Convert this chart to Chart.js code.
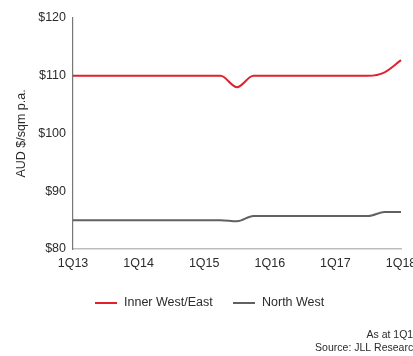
<!DOCTYPE html>
<html>
<head>
<meta charset="utf-8">
<script src="https://cdn.jsdelivr.net/npm/chart.js@4/dist/chart.umd.min.js"></script>
<style>
  html, body { margin: 0; padding: 0; overflow: hidden; background: #fff; }
  #wrap { position: relative; width: 440px; height: 356px; }
</style>
</head>
<body>
<div id="wrap"><canvas id="c" width="440" height="356"></canvas></div>
<script>
// Quarterly periods, 1Q13 to 1Q18
const quarters = [
  '1Q13','2Q13','3Q13','4Q13',
  '1Q14','2Q14','3Q14','4Q14',
  '1Q15','2Q15','3Q15','4Q15',
  '1Q16','2Q16','3Q16','4Q16',
  '1Q17','2Q17','3Q17','4Q17',
  '1Q18'
];

// Rents, AUD $/sqm p.a.
const innerWestEast = [
  110, 110, 110, 110,
  110, 110, 110, 110,
  110, 110, 108, 110,
  110, 110, 110, 110,
  110, 110, 110, 110.6,
  112.7
];
const northWest = [
  85, 85, 85, 85,
  85, 85, 85, 85,
  85, 85, 84.8, 85.7,
  85.7, 85.7, 85.7, 85.7,
  85.7, 85.7, 85.7, 86.4,
  86.4
];

const seriesNames = ['Inner West/East', 'North West'];
const seriesColors = ['#e0202e', '#616161'];
const yTicks = [80, 90, 100, 110, 120];
const footnotes = ['As at 1Q18', 'Source: JLL Research'];

const FONT = 'Liberation Sans, Arial, sans-serif';

// Legend row and source notes beneath the axes
const notesPlugin = {
  id: 'notes',
  afterDraw(chart) {
    const ctx = chart.ctx;
    ctx.save();
    ctx.font = '12.5px ' + FONT;
    ctx.textBaseline = 'middle';
    ctx.fillStyle = '#2b2b2b';
    const legendY = 303;
    const items = [{ x: 95 }, { x: 233 }];
    chart.data.datasets.forEach((ds, i) => {
      const x = items[i].x;
      ctx.strokeStyle = ds.borderColor;
      ctx.lineWidth = 2;
      ctx.beginPath();
      ctx.moveTo(x, legendY);
      ctx.lineTo(x + 22, legendY);
      ctx.stroke();
      ctx.textAlign = 'left';
      ctx.fillText(ds.label, x + 29, legendY);
    });
    ctx.font = '10.5px ' + FONT;
    ctx.textAlign = 'right';
    ctx.fillText(footnotes[0], 419, 335);
    ctx.fillText(footnotes[1], 419, 348);
    ctx.restore();
  }
};

new Chart(document.getElementById('c'), {
  type: 'line',
  data: {
    labels: quarters,
    datasets: [
      {
        label: seriesNames[0],
        data: innerWestEast,
        borderColor: seriesColors[0],
        backgroundColor: seriesColors[0],
        borderWidth: 2,
        pointRadius: 0,
        cubicInterpolationMode: 'monotone'
      },
      {
        label: seriesNames[1],
        data: northWest,
        borderColor: seriesColors[1],
        backgroundColor: seriesColors[1],
        borderWidth: 2,
        pointRadius: 0,
        cubicInterpolationMode: 'monotone'
      }
    ]
  },
  options: {
    responsive: false,
    animation: false,
    devicePixelRatio: 1,
    layout: { padding: { left: 0, right: 39, top: 18, bottom: 78 } },
    plugins: {
      legend: { display: false },
      tooltip: { enabled: false }
    },
    scales: {
      x: {
        offset: false,
        grid: { display: false, drawTicks: false },
        border: { display: true, color: '#bdbdbd', width: 1.5 },
        ticks: {
          autoSkip: false,
          maxRotation: 0,
          padding: 7,
          color: '#2b2b2b',
          font: { family: FONT, size: 12.5 },
          callback: function (v) {
            const lab = this.getLabelForValue(v);
            return lab.startsWith('1Q') ? lab : '';
          }
        }
      },
      y: {
        min: 80,
        max: 120,
        afterBuildTicks: (s) => { s.ticks = yTicks.map(v => ({ value: v })); },
        afterFit: (s) => { s.width = 73; },
        grid: { display: false, drawTicks: false },
        border: { display: true, color: '#777', width: 1.2 },
        title: {
          display: true,
          text: 'AUD $/sqm p.a.',
          color: '#2b2b2b',
          font: { family: FONT, size: 12.5 },
          padding: { top: 14, bottom: 0 }
        },
        ticks: {
          padding: 7,
          color: '#2b2b2b',
          font: { family: FONT, size: 12.5 },
          callback: (v) => '$' + v
        }
      }
    }
  },
  plugins: [notesPlugin]
});
</script>
</body>
</html>
